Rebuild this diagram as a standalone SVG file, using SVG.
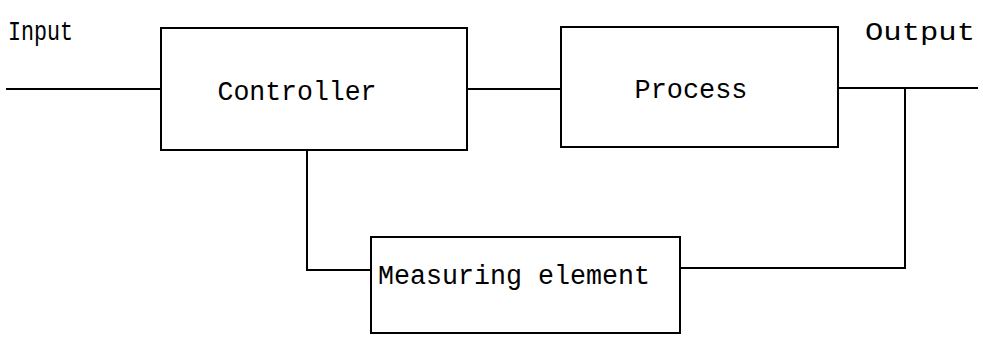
<svg xmlns="http://www.w3.org/2000/svg" width="983" height="343" viewBox="0 0 983 343">
<style>
.box{fill:#fff;stroke:#000;stroke-width:2}
.ln{fill:none;stroke:#000;stroke-width:2}
.t{font-family:"Liberation Mono","DejaVu Sans Mono",monospace;fill:#000}
</style>
<rect width="983" height="343" fill="#fff"/>
<g id="connectors">
<line class="ln" x1="6" y1="89" x2="161" y2="89"/>
<line class="ln" x1="467" y1="89" x2="561" y2="89"/>
<line class="ln" x1="838" y1="88" x2="978" y2="88"/>
<polyline class="ln" points="905,88 905,268 680,268"/>
<polyline class="ln" points="307,150 307,270 371,270"/>
</g>
<g id="input-label"><text class="t" x="8" y="40" font-size="27" textLength="65" lengthAdjust="spacingAndGlyphs">Input</text></g>
<g id="output-label"><text class="t" x="865" y="40" font-size="25" textLength="110" lengthAdjust="spacingAndGlyphs">Output</text></g>
<g id="controller">
<rect class="box" x="161" y="28" width="306" height="122"/>
<text class="t" x="297" y="100" font-size="27" text-anchor="middle" textLength="159" lengthAdjust="spacingAndGlyphs">Controller</text>
</g>
<g id="process">
<rect class="box" x="561" y="27" width="277" height="120"/>
<text class="t" x="691" y="98" font-size="27" text-anchor="middle" textLength="113" lengthAdjust="spacingAndGlyphs">Process</text>
</g>
<g id="measuring-element">
<rect class="box" x="371" y="237" width="309" height="96"/>
<text class="t" x="378" y="284" font-size="27" textLength="272" lengthAdjust="spacingAndGlyphs">Measuring element</text>
</g>
</svg>
